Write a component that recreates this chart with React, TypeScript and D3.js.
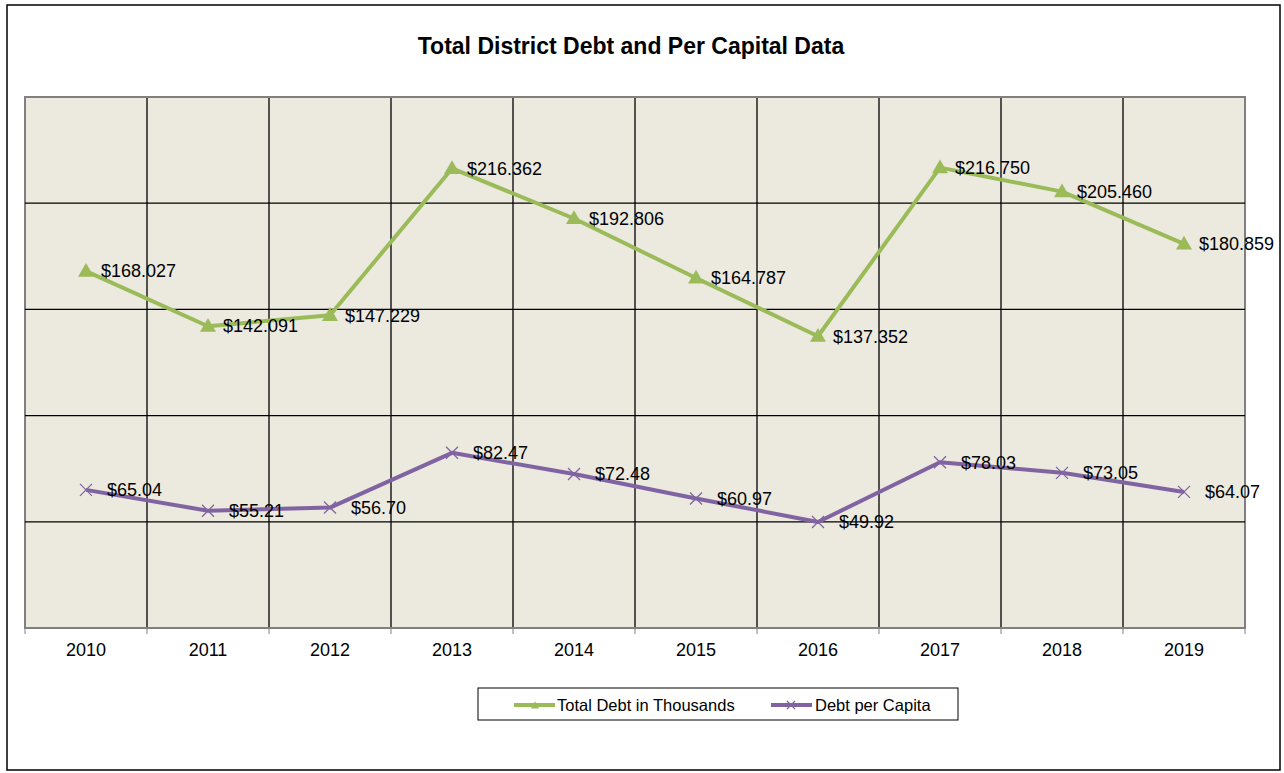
import React from 'react'
import * as d3 from 'd3'

const YEARS = ['2010', '2011', '2012', '2013', '2014', '2015', '2016', '2017', '2018', '2019']
const TOTAL_DEBT = [168.027, 142.091, 147.229, 216.362, 192.806, 164.787, 137.352, 216.75, 205.46, 180.859]
const PER_CAPITA = [65.04, 55.21, 56.7, 82.47, 72.48, 60.97, 49.92, 78.03, 73.05, 64.07]
const Y_TICKS = [0, 50, 100, 150, 200, 250]

const W = 1284
const H = 773
const PLOT = { left: 25, right: 1245, top: 97, bottom: 628 }
const GREEN = '#9bbb59'
const PURPLE = '#8064a2'
const FONT = 'Arial, "Liberation Sans", sans-serif'

export default function App() {
  const x = d3.scaleBand<string>().domain(YEARS).range([PLOT.left, PLOT.right])
  const cx = (d: string) => (x(d) ?? 0) + x.bandwidth() / 2
  const y = d3.scaleLinear().domain([0, 250]).range([PLOT.bottom, PLOT.top])

  const line = d3.line<number>().x((_, i) => cx(YEARS[i])).y(v => y(v))

  const tri = d3.symbol().type(d3.symbolTriangle).size(110)()
  const xMark = 'M-6,-6L6,6M-6,6L6,-6'

  return (
    <svg width={W} height={H} style={{ position: 'absolute', left: 0, top: 0, fontFamily: FONT }}>
      <rect x={0} y={0} width={W} height={H} fill="#fff" />
      <rect x={7} y={5} width={1273} height={765} fill="#fff" stroke="#000" strokeWidth={1.5} />

      <text x={631} y={46} dy="0.35em" textAnchor="middle" fontSize={23} fontWeight="bold" fill="#000">
        Total District Debt and Per Capital Data
      </text>

      {/* plot area */}
      <rect x={PLOT.left} y={PLOT.top} width={PLOT.right - PLOT.left} height={PLOT.bottom - PLOT.top}
        fill="#ece9df" stroke="#808080" strokeWidth={2} />

      {Y_TICKS.slice(1, -1).map(t => (
        <line key={t} x1={PLOT.left} x2={PLOT.right} y1={y(t)} y2={y(t)} stroke="#000" strokeWidth={1.3} />
      ))}
      {YEARS.slice(1).map(d => (
        <line key={d} x1={x(d)} x2={x(d)} y1={PLOT.top} y2={PLOT.bottom} stroke="#000" strokeWidth={1.3} />
      ))}
      <line x1={PLOT.left} x2={PLOT.right} y1={PLOT.top} y2={PLOT.top} stroke="#808080" strokeWidth={2} />

      {/* x axis */}
      <line x1={PLOT.left} x2={PLOT.right} y1={PLOT.bottom} y2={PLOT.bottom} stroke="#808080" strokeWidth={2} />
      {[...YEARS.map(d => x(d) ?? 0), PLOT.right].map((p, i) => (
        <line key={i} x1={p} x2={p} y1={PLOT.bottom} y2={PLOT.bottom + 6} stroke="#808080" strokeWidth={1} />
      ))}
      {YEARS.map(d => (
        <text key={d} x={cx(d)} y={650} dy="0.35em" textAnchor="middle" fontSize={18} fill="#000">{d}</text>
      ))}

      {/* series */}
      <path d={line(TOTAL_DEBT) ?? ''} fill="none" stroke={GREEN} strokeWidth={4} strokeLinejoin="round" />
      <path d={line(PER_CAPITA) ?? ''} fill="none" stroke={PURPLE} strokeWidth={4} strokeLinejoin="round" />

      {TOTAL_DEBT.map((v, i) => (
        <g key={i}>
          <path d={tri ?? ''} transform={`translate(${cx(YEARS[i])},${y(v) + 1})`} fill={GREEN} />
          <text x={cx(YEARS[i]) + 15} y={y(v)} dy="0.35em" fontSize={18} fill="#000">
            {'$' + v.toFixed(3)}
          </text>
        </g>
      ))}
      {PER_CAPITA.map((v, i) => (
        <g key={i}>
          <path d={xMark} transform={`translate(${cx(YEARS[i])},${y(v)})`} stroke={PURPLE} strokeWidth={1.3} fill="none" />
          <text x={cx(YEARS[i]) + 21} y={y(v)} dy="0.35em" fontSize={18} fill="#000">
            {'$' + v.toFixed(2)}
          </text>
        </g>
      ))}

      {/* legend */}
      <rect x={478} y={688} width={480} height={32} fill="#fff" stroke="#000" strokeWidth={1} />
      <line x1={514} x2={555} y1={705} y2={705} stroke={GREEN} strokeWidth={4} />
      <path d={d3.symbol().type(d3.symbolTriangle).size(30)() ?? ''} transform="translate(535,706)" fill={GREEN} />
      <text x={557} y={705} dy="0.35em" fontSize={16.5} fill="#000">Total Debt in Thousands</text>
      <line x1={771} x2={812} y1={705} y2={705} stroke={PURPLE} strokeWidth={4} />
      <path d="M-4,-4L4,4M-4,4L4,-4" transform="translate(791,705)" stroke={PURPLE} strokeWidth={1.3} />
      <text x={815} y={705} dy="0.35em" fontSize={16.5} fill="#000">Debt per Capita</text>
    </svg>
  )
}
